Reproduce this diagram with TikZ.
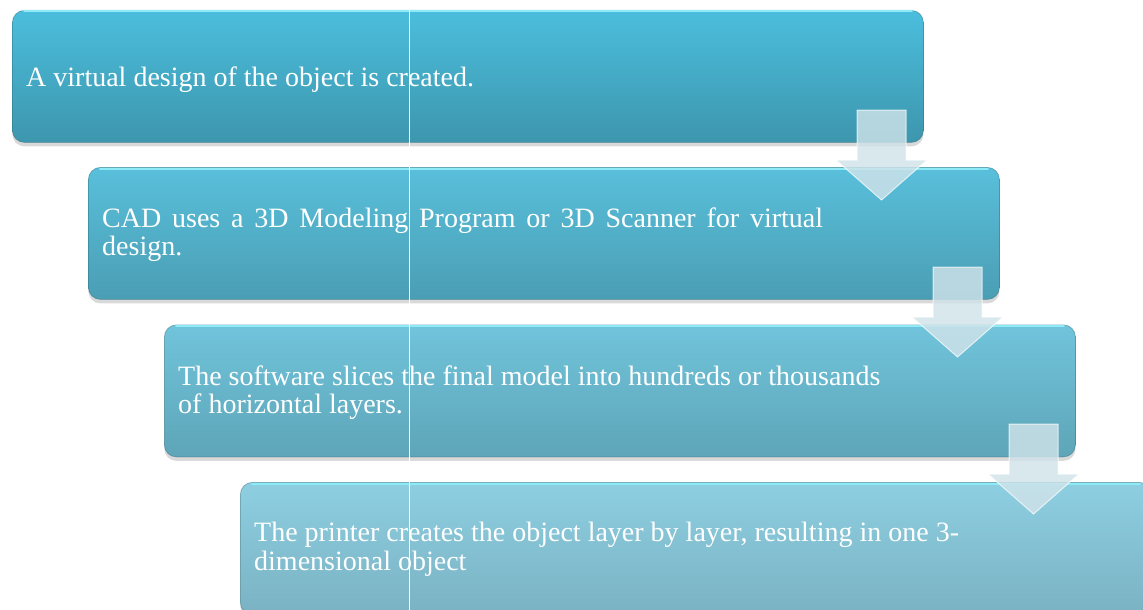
\documentclass[tikz,border=0pt]{standalone}
\usepackage{fontspec}
\setmainfont{Liberation Serif}
\usetikzlibrary{shadows}
\definecolor{boxAtop}{HTML}{4BBEDD}
\definecolor{boxAbot}{HTML}{3D96AD}
\definecolor{boxBtop}{HTML}{59BFDB}
\definecolor{boxBbot}{HTML}{4A9EB4}
\definecolor{boxCtop}{HTML}{70C4DB}
\definecolor{boxCbot}{HTML}{5EA5B8}
\definecolor{boxDtop}{HTML}{8DCFE1}
\definecolor{boxDbot}{HTML}{7AB2C3}
\definecolor{edgehi}{HTML}{8FEAF8}
\definecolor{edgelo}{HTML}{2F6F7E}
\definecolor{arrowfill}{HTML}{D0E3E9}
\begin{document}
\begin{tikzpicture}[x=1pt,y=-1pt,
  stepbox/.style={rectangle, rounded corners=12pt, anchor=north west,
    minimum width=911pt, minimum height=132pt, inner sep=0pt,
    draw=edgelo, draw opacity=0.45, line width=0.8pt,
    drop shadow={shadow xshift=0pt, shadow yshift=-4pt, opacity=0.3}},
  tophi/.style={draw=edgehi, line width=2pt, line cap=round},
  txt/.style={anchor=base west, inner sep=0pt, text=white,
    font=\fontsize{28}{28.5}\selectfont},
  downarrow/.style={fill=arrowfill, fill opacity=0.82, draw=white,
    draw opacity=0.7, line width=1pt, line join=miter},
  seam/.style={draw=white, line width=1pt}
]
\useasboundingbox (0,0) rectangle (1143,610);
\clip (0,0) rectangle (1143,610);

% boxes
\node[stepbox, top color=boxAtop, bottom color=boxAbot] (b1) at (12,10) {};
\draw[tophi] ([xshift=12pt,yshift=-1.5pt]b1.north west) -- ([xshift=-12pt,yshift=-1.5pt]b1.north east);
\node[stepbox, top color=boxBtop, bottom color=boxBbot] (b2) at (88,167) {};
\draw[tophi] ([xshift=12pt,yshift=-1.5pt]b2.north west) -- ([xshift=-12pt,yshift=-1.5pt]b2.north east);
\node[stepbox, top color=boxCtop, bottom color=boxCbot] (b3) at (164,324.5) {};
\draw[tophi] ([xshift=12pt,yshift=-1.5pt]b3.north west) -- ([xshift=-12pt,yshift=-1.5pt]b3.north east);
\node[stepbox, top color=boxDtop, bottom color=boxDbot] (b4) at (240,482) {};
\draw[tophi] ([xshift=12pt,yshift=-1.5pt]b4.north west) -- ([xshift=-12pt,yshift=-1.5pt]b4.north east);

% texts
\node[txt] (t1) at (26,86) {A virtual design of the object is created.};
\node[txt] (t2a) at (102,227) {\makebox[721pt][s]{CAD uses a 3D Modeling Program or 3D Scanner for virtual}};
\node[txt] (t2b) at (102,255.5) {design.};
\node[txt] (t3a) at (178,385) {The software slices the final model into hundreds or thousands};
\node[txt] (t3b) at (178,413.5) {of horizontal layers.};
\node[txt] (t4a) at (254,541.5) {The printer creates the object layer by layer, resulting in one 3-};
\node[txt] (t4b) at (254,570) {dimensional object};

% down arrows
\draw[downarrow] (857,110) -- (906,110) -- (906,160) -- (927,160) -- (881.5,200) -- (836,160) -- (857,160) -- cycle;
\draw[downarrow] (933,267) -- (982,267) -- (982,317) -- (1003,317) -- (957.5,357) -- (912,317) -- (933,317) -- cycle;
\draw[downarrow] (1009,424) -- (1058,424) -- (1058,474) -- (1079,474) -- (1033.5,514) -- (988,474) -- (1009,474) -- cycle;

% thin vertical seam
\draw[seam] (409,10) -- (409,610);
\end{tikzpicture}
\end{document}
